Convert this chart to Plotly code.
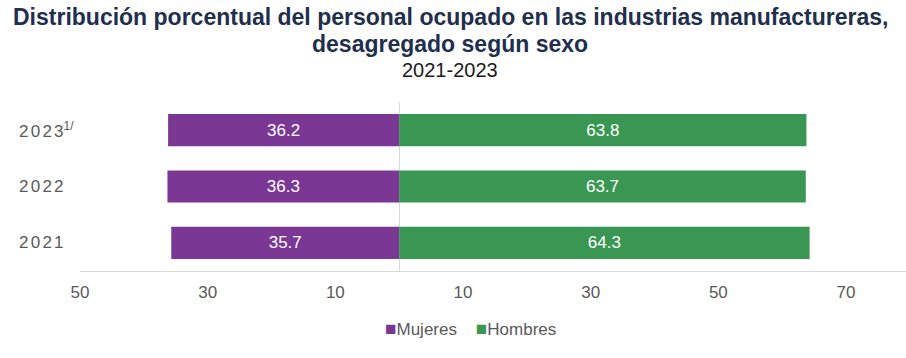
import plotly.graph_objects as go

years = ["2021", "2022", "2023"]
year_notes = ["", "", "1/"]
mujeres = [35.7, 36.3, 36.2]
hombres = [64.3, 63.7, 63.8]
tick_vals = [-50, -30, -10, 10, 30, 50, 70]
tick_text = ["50", "30", "10", "10", "30", "50", "70"]
series_names = ["Mujeres", "Hombres"]

PURPLE = "#7B3794"
GREEN = "#3A9753"
FONT = "Liberation Sans, Arial, sans-serif"
GRAY = "#595959"

fig = go.Figure()
fig.add_trace(go.Bar(
    y=years, x=[-v for v in mujeres], orientation="h", name=series_names[0],
    marker=dict(color=PURPLE, line=dict(width=0)),
    text=[f"{v:.1f}" for v in mujeres], textposition="inside",
    insidetextanchor="middle", textangle=0,
    textfont=dict(color="white", size=17, family=FONT),
))
fig.add_trace(go.Bar(
    y=years, x=hombres, orientation="h", name=series_names[1],
    marker=dict(color=GREEN, line=dict(width=0)),
    text=[f"{v:.1f}" for v in hombres], textposition="inside",
    insidetextanchor="middle", textangle=0,
    textfont=dict(color="white", size=17, family=FONT),
))

fig.update_layout(
    width=906, height=358,
    margin=dict(l=80, r=0, t=102, b=87, autoexpand=False),
    paper_bgcolor="white", plot_bgcolor="white",
    barmode="relative", bargap=0.43,
    font=dict(family=FONT, color=GRAY, size=17),
    showlegend=False,
    xaxis=dict(range=[-50, 79.4], tickvals=tick_vals, ticktext=tick_text,
               showgrid=False, zeroline=True, zerolinecolor="#D9D9D9", zerolinewidth=1,
               showline=True, linecolor="#D9D9D9", linewidth=1,
               ticks="outside", ticklen=6, tickcolor="rgba(0,0,0,0)",
               tickfont=dict(size=17, color=GRAY), fixedrange=True),
    yaxis=dict(type="category", showticklabels=False, showgrid=False, zeroline=False,
               showline=False, categoryorder="array", categoryarray=years,
               range=[-0.5, 2.5], fixedrange=True),
)

cx = (450 - 80) / 826
fig.add_annotation(text="<b>Distribución porcentual del personal ocupado en las industrias manufactureras,</b>",
                   xref="paper", yref="paper", x=cx, y=1, xanchor="center",
                   yanchor="middle", yshift=102 - 17, showarrow=False,
                   font=dict(size=23, color="#1F2F4E", family=FONT))
fig.add_annotation(text="<b>desagregado según sexo</b>",
                   xref="paper", yref="paper", x=cx, y=1, xanchor="center",
                   yanchor="middle", yshift=102 - 44, showarrow=False,
                   font=dict(size=23, color="#1F2F4E", family=FONT))
fig.add_annotation(text="2021-2023",
                   xref="paper", yref="paper", x=cx, y=1, xanchor="center",
                   yanchor="middle", yshift=102 - 70, showarrow=False,
                   font=dict(size=20, color="#1A1A1A", family=FONT))

# Year labels, left-aligned with slight letter spacing
sp = "<span style='font-size:8px'> </span>"
for i, (yr, note) in enumerate(zip(years, year_notes)):
    txt = sp.join(list(yr))
    if note:
        txt += f"<sup>{note}</sup>"
    fig.add_annotation(text=txt, xref="paper", yref="y", x=0, y=i,
                       xanchor="left", xshift=-63, showarrow=False,
                       font=dict(size=17, color=GRAY, family=FONT))

# Legend row
nb = "\u00a0"
legend_txt = (f"<span style='color:{PURPLE};font-size:19px'>■</span>{series_names[0]}"
              f"{nb*4}<span style='color:{GREEN};font-size:19px'>■</span>{series_names[1]}")
fig.add_annotation(text=legend_txt, xref="paper", yref="paper", x=(470 - 80) / 826, y=0,
                   xanchor="center", yanchor="middle", yshift=271 - 328, showarrow=False,
                   font=dict(size=17, color=GRAY, family=FONT))

fig.write_html("out.html", config={"displayModeBar": False},
               post_script="document.body.style.margin='0';")
